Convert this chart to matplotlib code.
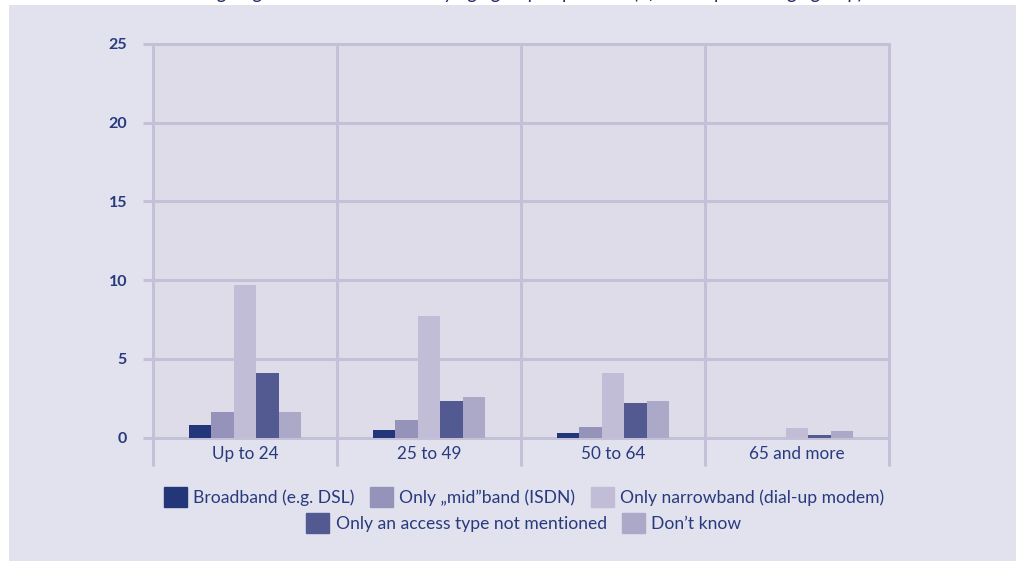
import matplotlib.pyplot as plt
import matplotlib.patches as mpatches
import numpy as np

plt.rcParams['font.family'] = ['Lato', 'DejaVu Sans']

# share of each age group, in per cent
groups = ["Up to 24", "25 to 49", "50 to 64", "65 and more"]
series = ["Broadband (e.g. DSL)", "Only \u201emid\u201dband (ISDN)",
          "Only narrowband (dial-up modem)",
          "Only an access type not mentioned", "Don\u2019t know"]
broadband = [0.8, 0.5, 0.3, 0.0]
midband = [1.6, 1.1, 0.7, 0.0]
narrowband = [9.7, 7.7, 4.1, 0.6]
not_mentioned = [4.1, 2.3, 2.2, 0.15]
dont_know = [1.6, 2.6, 2.3, 0.4]
values = [broadband, midband, narrowband, not_mentioned, dont_know]
colors = ["#23367a", "#9693ba", "#c1bdd6", "#535a92", "#aba8c8"]
yticks = [0, 5, 10, 15, 20, 25]

grid_col = "#c3c0d7"
text_col = "#283a7e"

fig = plt.figure(figsize=(10.16, 5.61), dpi=100)
fig.patch.set_facecolor("white")

# light backdrop panel
fig.patches.append(mpatches.Rectangle((9 / 1016, 0), 1, 556 / 561,
                                      transform=fig.transFigure,
                                      facecolor="#e2e2ee", edgecolor="none",
                                      zorder=-5))
# heading, mostly cut off at the top edge
fig.text(20 / 1016, 562 / 561,
         "Households not intending to get broadband access by age group "
         "in per cent (of the respective age group)",
         fontsize=14, style="italic", color="#1f2c6e", va="baseline",
         ha="left", zorder=-6)

ax = fig.add_axes([153 / 1016, 0.2201, 736 / 1016, 0.7015])
ax.set_facecolor("#dedce9")
ax.set_xlim(0, 4)
ax.set_ylim(0, 25)
for s in ax.spines.values():
    s.set_visible(False)

# grid: horizontal lines plus group separators
lw = 2.2
for y in yticks:
    ax.axhline(y, color=grid_col, lw=lw, zorder=1, clip_on=False)
for x in range(5):
    ax.axvline(x, color=grid_col, lw=lw, zorder=1, clip_on=False)

w = 0.1223
centers = np.arange(len(groups)) + 0.5
for i, (vals, c, name) in enumerate(zip(values, colors, series)):
    ax.bar(centers + (i - 2) * w, vals, width=w, color=c, label=name,
           zorder=2, linewidth=0)

ax.set_yticks(yticks)
ax.set_yticklabels([str(v) for v in yticks], fontsize=11.5,
                   fontweight="bold", color=text_col)
ax.tick_params(axis="y", length=7.2, width=lw, color=grid_col, pad=11.5)

ax.set_xticks(centers)
ax.set_xticklabels(groups, fontsize=12.3, color=text_col)
ax.set_xticks(range(5), minor=True)
ax.tick_params(axis="x", which="major", length=0, pad=6)
ax.tick_params(axis="x", which="minor", length=20, width=lw, color=grid_col)

handles = [mpatches.Patch(color=c) for c in colors]
leg_kw = dict(frameon=False, fontsize=12.6, handlelength=1.3,
              handleheight=1.3, handletextpad=0.36, columnspacing=0.9,
              borderpad=0, labelcolor=text_col, loc="center")
fig.legend(handles[:3], series[:3], ncol=3,
           bbox_to_anchor=(524 / 1016, 1 - 497 / 561), **leg_kw)
fig.legend(handles[3:], series[3:], ncol=2,
           bbox_to_anchor=(524 / 1016, 1 - 523 / 561), **leg_kw)

fig.savefig("out.png", dpi=100)
